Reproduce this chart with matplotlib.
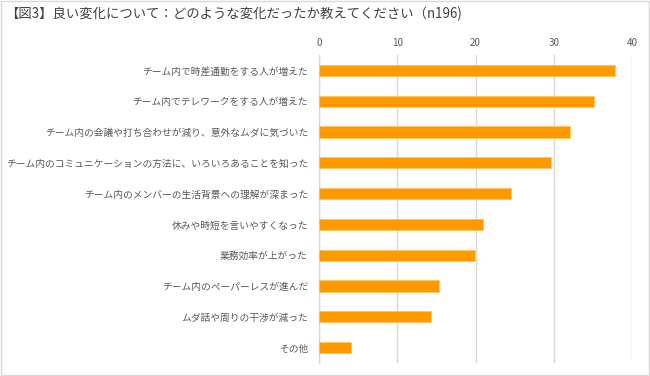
import matplotlib
matplotlib.use("Agg")
import matplotlib.pyplot as plt
from matplotlib.patches import Rectangle

plt.rcParams['font.family'] = ['Noto Sans CJK JP', 'DejaVu Sans']

title = "【図3】良い変化について：どのような変化だったか教えてください（n196)"
categories = [
    "チーム内で時差通勤をする人が増えた",
    "チーム内でテレワークをする人が増えた",
    "チーム内の会議や打ち合わせが減り、意外なムダに気づいた",
    "チーム内のコミュニケーションの方法に、いろいろあることを知った",
    "チーム内のメンバーの生活背景への理解が深まった",
    "休みや時短を言いやすくなった",
    "業務効率が上がった",
    "チーム内のペーパーレスが進んだ",
    "ムダ話や周りの干渉が減った",
    "その他",
]
values = [37.8, 35.2, 32.1, 29.6, 24.5, 20.9, 19.9, 15.3, 14.3, 4.1]
xticks = [0, 10, 20, 30, 40]

fig = plt.figure(figsize=(6.5, 3.76), dpi=100)
fig.patches.append(Rectangle((0.002, 0.003), 0.996, 0.994, transform=fig.transFigure,
                             fill=False, edgecolor='#d9d9d9', linewidth=1))

ax = fig.add_axes([319/650, 1-363/376, 313/650, 308/376])
ypos = list(range(len(categories)))
ax.barh(ypos, values, height=0.36, color='#FF9900', edgecolor='#FFC266', linewidth=0.6, zorder=3)
ax.set_ylim(len(categories)-0.5, -0.5)
ax.set_xlim(0, 40)
ax.set_yticks(ypos)
ax.set_yticklabels(categories, fontsize=7, color='#595959')
ax.set_xticks(xticks)
ax.set_xticklabels([str(t) for t in xticks], fontsize=7, color='#595959')
ax.xaxis.tick_top()
ax.tick_params(axis='x', length=0, pad=5)
ax.tick_params(axis='y', length=0, pad=8)
ax.grid(axis='x', color='#d9d9d9', linewidth=1, zorder=0)
for s in ['top', 'right', 'bottom']:
    ax.spines[s].set_visible(False)
ax.spines['left'].set_color('#d9d9d9')
ax.spines['left'].set_linewidth(1)

fig.text(0.008, 1-14/376, title, fontsize=9.6, color='#404040', va='center', ha='left')

fig.savefig("out.png", dpi=100)
